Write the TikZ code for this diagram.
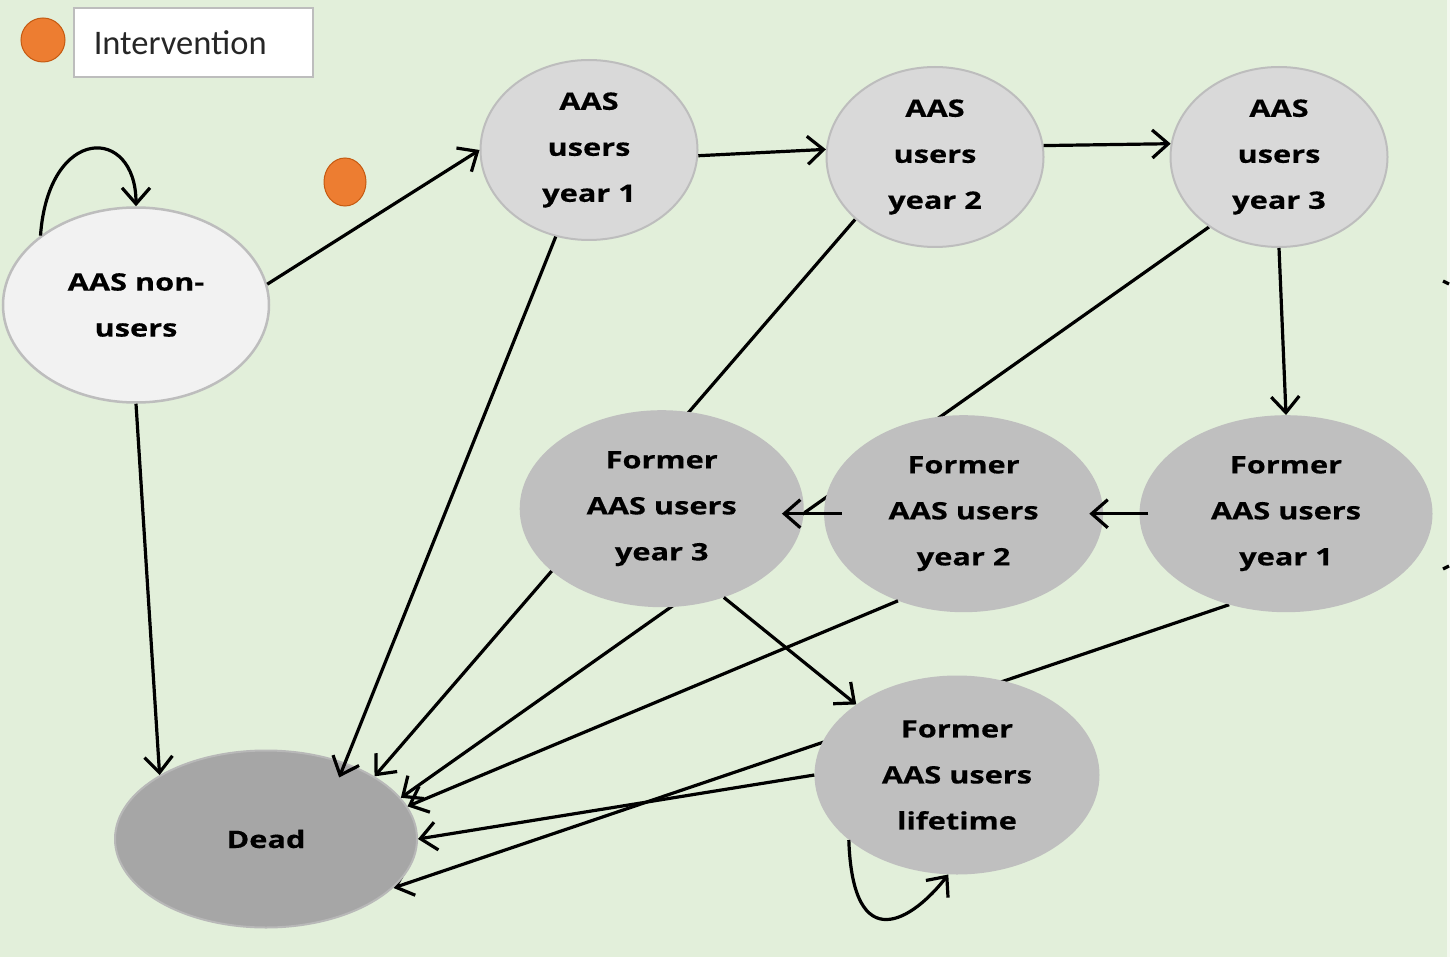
\documentclass[tikz,border=0pt]{standalone}
\usepackage{fontspec}
\setmainfont{Carlito}
\newfontfamily\statefont{Open Sans}[FakeStretch=1.28, BoldFeatures={FakeBold=0.4}]
\usetikzlibrary{shapes,arrows.meta,positioning}
\definecolor{bggreen}{HTML}{E2EFDA}
\definecolor{nonfill}{HTML}{F2F2F2}
\definecolor{userfill}{HTML}{D9D9D9}
\definecolor{formerfill}{HTML}{BFBFBF}
\definecolor{deadfill}{HTML}{A6A6A6}
\definecolor{rim}{HTML}{BDBDBD}
\definecolor{interv}{HTML}{ED7D31}
\definecolor{intervrim}{HTML}{C55A11}
\pgfdeclarelayer{bg}
\pgfdeclarelayer{under}
\pgfsetlayers{bg,under,main}

\begin{document}
\begin{tikzpicture}[
            x=1pt, y=-1pt,
            state/.style={ellipse, inner sep=0pt, align=center, font=\statefont\bfseries\fontsize{24}{46}\selectfont},
            nonuser/.style={state, draw=rim, line width=2.5pt, fill=nonfill, minimum width=266pt, minimum height=195pt},
            aasuser/.style={state, draw=rim, line width=2pt, fill=userfill, minimum width=217pt, minimum height=180pt},
            former/.style={state, fill=formerfill, minimum width=284pt, minimum height=197pt},
            deadstate/.style={state, draw=rim!80!deadfill, line width=2pt, fill=deadfill, minimum width=302pt, minimum height=177pt},
            dot/.style={ellipse, fill=interv, draw=intervrim, line width=1pt, inner sep=0pt},
            legbox/.style={draw=rim, line width=1.5pt, fill=white, text width=199pt, inner xsep=20pt, minimum height=69pt, align=left, font=\fontsize{34.5}{40}\selectfont, text=black!85},
            arrow/.style={-{Straight Barb[length=16pt,width=28pt]}, line width=3.2pt}
        ]
            \useasboundingbox (0,0) rectangle (1450,957);

            \node[dot, minimum size=44pt] (legdot) at (43,40) {};
            \node[legbox, anchor=west] (legend) at (73,42.5) {Intervention};
            \node[dot, minimum width=42pt, minimum height=48pt] (intdot) at (345,182) {};

            \node[nonuser] (nonusers) at (136,305) {AAS non-\\users};
            \node[aasuser] (y1) at (589,150) {AAS\\users\\year 1};
            \node[aasuser, right=127pt of y1, yshift=-7pt] (y2) {AAS\\users\\year 2};
            \node[aasuser, right=125pt of y2] (y3) {AAS\\users\\year 3};
            \node[former, minimum width=293pt, below=167pt of y3, xshift=7pt] (f1) {Former\\AAS users\\year 1};
            \node[former, minimum width=279pt, left=36pt of f1] (f2) {Former\\AAS users\\year 2};
            \node[former, left=20pt of f2, yshift=5pt] (f3) {Former\\AAS users\\year 3};
            \node[former, minimum width=285pt, minimum height=199pt] (life) at (957,775) {Former\\AAS users\\lifetime};
            \node[deadstate] (dead) at (266,839) {Dead};

            \begin{pgfonlayer}{bg}
                \fill[bggreen] (0,0) rectangle (1450,957);
                \fill[white!60!bggreen] (1447,0) rectangle (1450,957);
            \end{pgfonlayer}

            \begin{pgfonlayer}{under}
                \draw[arrow] (y2.218) -- (dead.30);
                \draw[arrow] (y3.225) -- (dead.17);
                \draw[arrow] (f1.238) -- (dead.-21);
            \end{pgfonlayer}

            \draw[arrow] (nonusers.9) -- (y1.west);
            \draw[arrow] (y1.-3) -- (y2.176);
            \draw[arrow] (y2.6) -- (y3.173);
            \draw[arrow] (y3.south) -- (f1.north);
            \draw[arrow, shorten <=-9pt, shorten >=-14pt] (f1.west) -- (f2.east);
            \draw[arrow, shorten <=-18pt, shorten >=-22pt] (f2.west) -- (f2.west -| f3.east);
            \draw[arrow] (nonusers.south) -- (dead.149);
            \draw[arrow, shorten >=-16pt] (y1.249) -- (dead.44);
            \draw[arrow] (f2.233) -- (dead.13);
            \draw[arrow] (f3.-55) -- (life.145);
            \draw[arrow] (life.west) -- (dead.east);
            \draw[arrow] (nonusers.144) .. controls +(8,-111) and +(0,-81) .. (nonusers.north);
            \draw[arrow] (life.211) .. controls +(4,120) and +(-35,45) .. (life.265);

            \coordinate (stubA) at (1443,281);
            \coordinate (stubB) at (1443,569);
            \draw[line width=3.2pt] (stubA) -- ++(6,3);
            \draw[line width=3.2pt] (stubB) -- ++(6,-3);
        \end{tikzpicture}
\end{document}
